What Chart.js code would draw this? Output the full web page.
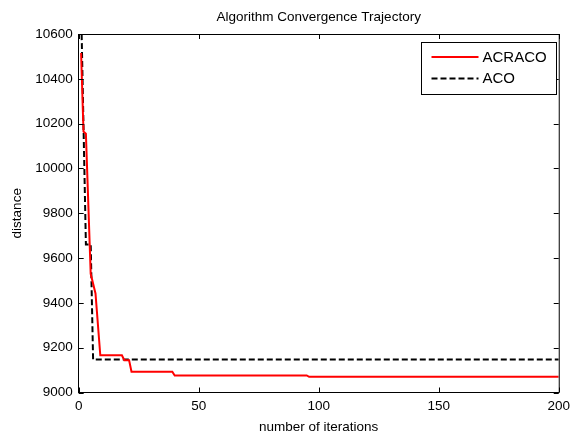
<!DOCTYPE html>
<html><head><meta charset="utf-8">
<script src="https://cdn.jsdelivr.net/npm/chart.js@4"></script>
<style>html,body{margin:0;padding:0;background:#fff}</style>
</head><body>
<canvas id="c" width="576" height="436" style="display:block;width:576px;height:436px"></canvas>
<script>
// ---- data ----
const chartTitle = 'Algorithm Convergence Trajectory';
const xAxisTitle = 'number of iterations';
const yAxisTitle = 'distance';
const seriesNames = ['ACRACO', 'ACO'];
const acracoIter = [1, 2, 3, 5, 7, 9, 18, 19, 21, 22, 39, 40, 95, 96, 200];
const acracoDist = [10515, 10165, 10155, 9530, 9442, 9166, 9166, 9144, 9144, 9093, 9093, 9076, 9076, 9070, 9070];
const acoIter = [1, 2, 3, 5, 6, 200];
const acoDist = [10720, 10190, 9661, 9661, 9147, 9147];
const xMin = 0, xMax = 200, xStep = 50;
const yMin = 9000, yMax = 10600, yStep = 200;

const FONT = "'Liberation Sans', Arial, Helvetica, sans-serif";
const FS = 13.5;

function pts(xs, ys) { return xs.map((x, i) => ({ x: x, y: ys[i] })); }

const decor = {
  id: 'decor',
  afterDraw(chart) {
    const ctx = chart.ctx, a = chart.chartArea;
    const xs = chart.scales.x, ys = chart.scales.y;
    ctx.save();
    ctx.strokeStyle = '#000';
    ctx.lineWidth = 1;
    ctx.setLineDash([]);
    // box top/right
    ctx.beginPath();
    ctx.moveTo(a.left, a.top + 0.5); ctx.lineTo(a.right + 0.5, a.top + 0.5);
    ctx.lineTo(a.right + 0.5, a.bottom);
    ctx.stroke();
    // inward ticks
    const tl = 5;
    ctx.beginPath();
    xs.ticks.forEach(t => {
      const px = Math.round(xs.getPixelForValue(t.value)) + 0.5;
      ctx.moveTo(px, a.bottom); ctx.lineTo(px, a.bottom - tl);
      ctx.moveTo(px, a.top); ctx.lineTo(px, a.top + tl);
    });
    ys.ticks.forEach(t => {
      const py = Math.round(ys.getPixelForValue(t.value)) + 0.5;
      ctx.moveTo(a.left, py); ctx.lineTo(a.left + tl, py);
      ctx.moveTo(a.right, py); ctx.lineTo(a.right - tl, py);
    });
    ctx.stroke();
    // title
    ctx.fillStyle = '#000';
    ctx.font = FS + 'px ' + FONT;
    ctx.textAlign = 'center';
    ctx.textBaseline = 'middle';
    ctx.fillText(chartTitle, (a.left + a.right) / 2, 17);
    // legend
    const bx = 421.5, by = 42.5, bw = 135, bh = 52;
    ctx.fillStyle = '#fff';
    ctx.fillRect(bx, by, bw, bh);
    ctx.strokeStyle = '#000';
    ctx.strokeRect(bx, by, bw, bh);
    ctx.font = '15px ' + FONT;
    ctx.textAlign = 'left';
    const rows = [57, 78.5];
    chart.data.datasets.forEach((ds, i) => {
      const y = rows[i];
      ctx.strokeStyle = ds.borderColor;
      ctx.lineWidth = ds.borderWidth;
      ctx.setLineDash(ds.borderDash || []);
      ctx.beginPath();
      ctx.moveTo(431.5, y); ctx.lineTo(478.5, y);
      ctx.stroke();
      ctx.setLineDash([]);
      ctx.fillStyle = '#000';
      ctx.fillText(ds.label, 482.5, y + 0.5);
    });
    ctx.restore();
  }
};

new Chart(document.getElementById('c'), {
  type: 'line',
  data: {
    datasets: [
      { label: seriesNames[0], data: pts(acracoIter, acracoDist), borderColor: '#ff0000', borderWidth: 2,
        pointRadius: 0, tension: 0, fill: false },
      { label: seriesNames[1], data: pts(acoIter, acoDist), borderColor: '#000000', borderWidth: 2,
        borderDash: [6, 3], pointRadius: 0, tension: 0, fill: false }
    ]
  },
  options: {
    responsive: false,
    animation: false,
    devicePixelRatio: 1,
    events: [],
    layout: { padding: { left: 0, right: 13.3, top: 34, bottom: 0 } },
    plugins: { legend: { display: false }, title: { display: false }, tooltip: { enabled: false } },
    scales: {
      x: {
        type: 'linear', min: xMin, max: xMax,
        ticks: { stepSize: xStep, color: '#000', font: { family: FONT, size: FS }, padding: 6, maxRotation: 0,
                 callback: v => String(v) },
        grid: { display: false, drawTicks: false },
        border: { display: true, color: '#000', width: 1 },
        title: { display: true, text: xAxisTitle, color: '#000', font: { family: FONT, size: FS }, padding: { top: 0, bottom: 1 } },
        afterFit: s => { s.height = 43.5; }
      },
      y: {
        type: 'linear', min: yMin, max: yMax,
        ticks: { stepSize: yStep, color: '#000', font: { family: FONT, size: FS }, padding: 6,
                 callback: v => String(v) },
        grid: { display: false, drawTicks: false },
        border: { display: true, color: '#000', width: 1 },
        title: { display: true, text: yAxisTitle, color: '#000', font: { family: FONT, size: FS }, padding: { top: 9, bottom: 0 } },
        afterFit: s => { s.width = 78.7; }
      }
    }
  },
  plugins: [decor]
});
</script>
</body></html>
